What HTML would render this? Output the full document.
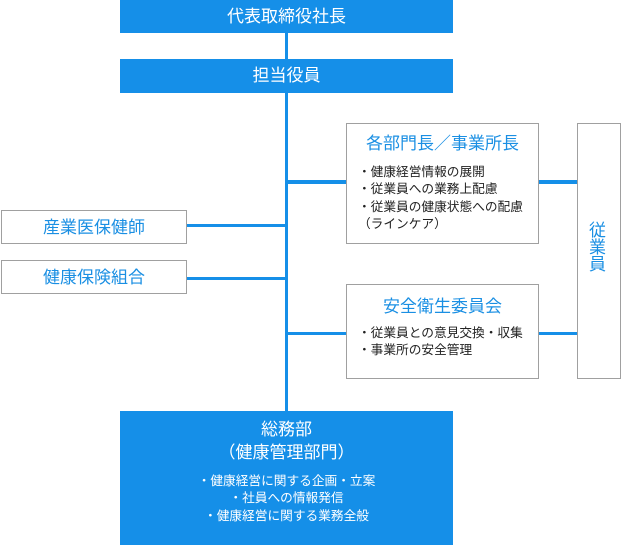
<!DOCTYPE html>
<html><head><meta charset="utf-8">
<style>
html,body{margin:0;padding:0;background:#fff;}
body{width:622px;height:545px;position:relative;overflow:hidden;font-family:"Liberation Sans","Noto Sans CJK JP",sans-serif;}
.a{position:absolute;box-sizing:border-box;}
.blue{background:#158fe8;}
.wb{background:#fff;border:1px solid #a0a0a0;}
.t{position:absolute;white-space:nowrap;}
.w{color:#fff;}
.bt{color:#1a8fe3;}
.k{color:#222;}
.ln{position:absolute;background:#158fe8;}
</style></head><body>
<!-- lines -->
<div class="ln" style="left:285px;top:33px;width:3px;height:379px;"></div>
<div class="ln" style="left:288px;top:180px;width:58px;height:3.5px;"></div>
<div class="ln" style="left:539px;top:180px;width:38px;height:3.5px;"></div>
<div class="ln" style="left:288px;top:331.5px;width:58px;height:3.5px;"></div>
<div class="ln" style="left:539px;top:331.5px;width:38px;height:3.5px;"></div>
<div class="ln" style="left:187px;top:223.5px;width:98px;height:3.5px;"></div>
<div class="ln" style="left:187px;top:276.5px;width:98px;height:3.5px;"></div>

<!-- blue boxes -->
<div class="a blue" style="left:120px;top:0;width:333px;height:33px;"></div>
<div class="t w" style="left:120px;width:333px;top:5px;text-align:center;font-size:17px;line-height:24px;">代表取締役社長</div>
<div class="a blue" style="left:120px;top:59px;width:333px;height:34px;"></div>
<div class="t w" style="left:120px;width:333px;top:64px;text-align:center;font-size:17px;line-height:24px;">担当役員</div>

<div class="a blue" style="left:120px;top:411px;width:333px;height:134px;"></div>
<div class="t w" style="left:120px;width:333px;top:418px;text-align:center;font-size:17px;line-height:24px;">総務部</div>
<div class="t w" style="left:120px;width:333px;top:441px;text-align:center;font-size:17px;line-height:24px;">（健康管理部門）</div>
<div class="t w" style="left:120px;width:333px;top:472.5px;text-align:center;font-size:12.7px;line-height:17.5px;">・健康経営に関する企画・立案<br>・社員への情報発信<br>・健康経営に関する業務全般</div>

<!-- white boxes -->
<div class="a wb" style="left:346px;top:123px;width:193px;height:121px;"></div>
<div class="t bt" style="left:346px;width:193px;top:132px;text-align:center;font-size:17px;line-height:24px;">各部門長／事業所長</div>
<div class="t k" style="left:358px;top:163.5px;font-size:12.7px;line-height:17.5px;">・健康経営情報の展開<br>・従業員への業務上配慮<br>・従業員の健康状態への配慮<br>（ラインケア）</div>

<div class="a wb" style="left:346px;top:284px;width:193px;height:95px;"></div>
<div class="t bt" style="left:346px;width:193px;top:294.5px;text-align:center;font-size:17px;line-height:24px;">安全衛生委員会</div>
<div class="t k" style="left:358px;top:325px;font-size:12.7px;line-height:17px;">・従業員との意見交換・収集<br>・事業所の安全管理</div>

<div class="a wb" style="left:577px;top:123px;width:44px;height:256px;"></div>
<div class="t bt" style="left:589px;width:17px;top:222px;text-align:center;font-size:17px;line-height:17px;white-space:normal;">従<br>業<br>員</div>

<div class="a wb" style="left:1px;top:210px;width:186px;height:34px;"></div>
<div class="t bt" style="left:1px;width:186px;top:216px;text-align:center;font-size:17px;line-height:24px;">産業医保健師</div>
<div class="a wb" style="left:1px;top:260px;width:186px;height:34px;"></div>
<div class="t bt" style="left:1px;width:186px;top:266px;text-align:center;font-size:17px;line-height:24px;">健康保険組合</div>
</body></html>
